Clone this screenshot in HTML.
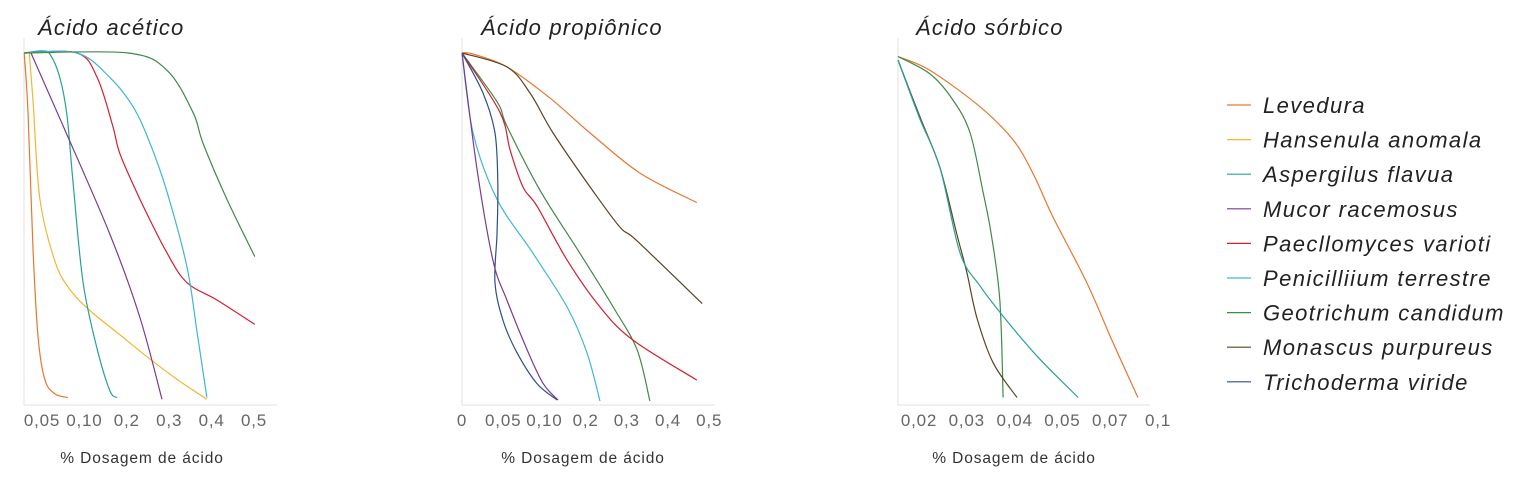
<!DOCTYPE html>
<html><head><meta charset="utf-8">
<style>
html,body{margin:0;padding:0;background:#fff;}
svg{display:block;font-family:"Liberation Sans",sans-serif;}
.title{font-size:22px;font-style:italic;fill:#222;letter-spacing:1.2px;}
.tick{font-size:17px;fill:#666;letter-spacing:0.8px;}
.axt{font-size:15.5px;fill:#333;letter-spacing:0.9px;}
.leg{font-size:22px;font-style:italic;fill:#222;letter-spacing:1.4px;}
</style></head>
<body>
<svg id="svg" width="1528" height="479" viewBox="0 0 1528 479"></svg>
<script>
// ---------- data ----------
const seriesNames = ["Levedura","Hansenula anomala","Aspergilus flavua","Mucor racemosus","Paecllomyces varioti","Penicilliium terrestre","Geotrichum candidum","Monascus purpureus","Trichoderma viride"];
const seriesColors = ["#e8772e","#f2b632","#26a196","#7b3a8f","#d41f2e","#3fb6d6","#3f8a46","#5a4325","#2d4f86"];

const chartTitles = ["Ácido acético","Ácido propiônico","Ácido sórbico"];
const ticks1 = ["0,05","0,10","0,2","0,3","0,4","0,5"];
const ticks2 = ["0","0,05","0,10","0,2","0,3","0,4","0,5"];
const ticks3 = ["0,02","0,03","0,04","0,05","0,07","0,1"];

// x values are positions along the categorical tick axis (tick index units), y values are % survival
const c1_levedura_x = [-0.42,-0.33,-0.21,-0.09,0.07,0.31,0.61];
const c1_levedura_y = [100,83,43,18,6,2,1];
const c1_hansenula_x = [-0.3,-0.21,-0.05,0.31,0.66,1.13,1.84,2.55,3.21,3.89];
const c1_hansenula_y = [100,86,58,40,32,26,19,12,6,0.5];
const c1_aspergilus_x = [-0.42,0.0,0.19,0.42,0.59,0.73,0.97,1.3,1.6,1.77];
const c1_aspergilus_y = [100,100.6,99.6,93,82,63,34,15,3,1];
const c1_mucor_x = [-0.26,0.5,1.6,2.31,2.83];
const c1_mucor_y = [100,79,48,24,0.5];
const c1_paecl_x = [-0.42,0.83,1.3,1.67,1.84,2.31,2.95,3.42,4.13,5.02];
const c1_paecl_y = [100,100,93,79,71,58,42.5,34,29,22];
const c1_penic_x = [-0.42,0.83,1.6,2.15,2.55,2.95,3.42,3.66,3.84,3.89];
const c1_penic_y = [100,100,93,84.5,74,60,38.5,19.5,5,1];
const c1_geot_x = [-0.42,2.03,2.95,3.56,3.8,4.36,5.02];
const c1_geot_y = [100,100,95,83,74,58,41.5];

const c2_levedura_x = [0,0.27,1.09,2.14,3.11,4.32,5.7];
const c2_levedura_y = [100,99.7,96,87,77,65.5,57];
const c2_monascus_x = [0,1.09,1.65,2.21,3.11,3.83,4.25,5.83];
const c2_monascus_y = [100,96,88.5,77,61.5,50,46,28];
const c2_geot_x = [0,0.85,1.09,1.89,2.86,3.67,4.25,4.56];
const c2_geot_y = [100,86,79,60.6,42.5,27,14.7,0];
const c2_paecl_x = [0,0.92,1.17,1.48,1.82,2.55,3.35,4.15,5.7];
const c2_paecl_y = [100,83,72,61.5,56,40.5,27,17.5,6];
const c2_penic_x = [0,0.27,0.85,1.72,2.55,3.03,3.35];
const c2_penic_y = [100,77,58,42.5,27,14,0];
const c2_trich_x = [0,0.51,0.8,0.87,0.85,0.8,1.0,1.33,1.82,2.31];
const c2_trich_y = [100,88.5,77,62.6,48,34,23,14,5,0.3];
const c2_mucor_x = [0,0.36,0.75,1.09,1.58,1.97,2.33];
const c2_mucor_y = [100,67,40.5,29,14.7,5,0.3];

const c3_levedura_x = [-0.44,0.23,1.28,1.97,2.38,2.8,3.51,4.06,4.58];
const c3_levedura_y = [99,95,84.5,75,65.5,53,34,16.7,1];
const c3_geot_x = [-0.44,0.23,0.71,1.07,1.34,1.51,1.69,1.76];
const c3_geot_y = [99,94,86.5,77,60,48,29,1];
const c3_monascus_x = [-0.44,0.02,0.44,0.79,1.0,1.21,1.55,2.05];
const c3_monascus_y = [98,81.6,67,48,37,24,11,1];
const c3_aspergilus_x = [-0.44,0.02,0.44,0.86,1.28,1.84,2.53,3.33];
const c3_aspergilus_y = [98,81,67,42.5,33,23,12,1];

// ---------- layout ----------
const NS = "http://www.w3.org/2000/svg";
const svg = document.getElementById("svg");
function mk(tag, attrs, parent){ const e=document.createElementNS(NS,tag); for(const k in attrs) e.setAttribute(k,attrs[k]); (parent||svg).appendChild(e); return e; }
const yTop = 53, yBot = 401;
function yScale(v){ return yBot - (yBot - yTop) * v / 100; }

const charts = [
  {title:chartTitles[0], ticks:ticks1, axisX:24, axisEnd:277, x0:42, step:42.4, titleX:38, axTitleX:142, name:"acetic",
   series:[[0,c1_levedura_x,c1_levedura_y],[1,c1_hansenula_x,c1_hansenula_y],[2,c1_aspergilus_x,c1_aspergilus_y],[3,c1_mucor_x,c1_mucor_y],[4,c1_paecl_x,c1_paecl_y],[5,c1_penic_x,c1_penic_y],[6,c1_geot_x,c1_geot_y]]},
  {title:chartTitles[1], ticks:ticks2, axisX:462, axisEnd:715, x0:462, step:41.2, titleX:481, axTitleX:583, name:"propionic",
   series:[[0,c2_levedura_x,c2_levedura_y],[7,c2_monascus_x,c2_monascus_y],[6,c2_geot_x,c2_geot_y],[4,c2_paecl_x,c2_paecl_y],[5,c2_penic_x,c2_penic_y],[8,c2_trich_x,c2_trich_y],[3,c2_mucor_x,c2_mucor_y]]},
  {title:chartTitles[2], ticks:ticks3, axisX:898, axisEnd:1150, x0:919, step:47.8, titleX:916, axTitleX:1014, name:"sorbic",
   series:[[0,c3_levedura_x,c3_levedura_y],[6,c3_geot_x,c3_geot_y],[7,c3_monascus_x,c3_monascus_y],[2,c3_aspergilus_x,c3_aspergilus_y]]}
];

function smoothPath(pts){
  let d = "M"+pts[0][0].toFixed(1)+","+pts[0][1].toFixed(1);
  for(let i=0;i<pts.length-1;i++){
    const p0=pts[i-1]||pts[i], p1=pts[i], p2=pts[i+1], p3=pts[i+2]||p2;
    const c1=[p1[0]+(p2[0]-p0[0])/6, p1[1]+(p2[1]-p0[1])/6];
    const c2=[p2[0]-(p3[0]-p1[0])/6, p2[1]-(p3[1]-p1[1])/6];
    d += " C"+c1[0].toFixed(1)+","+c1[1].toFixed(1)+" "+c2[0].toFixed(1)+","+c2[1].toFixed(1)+" "+p2[0].toFixed(1)+","+p2[1].toFixed(1);
  }
  return d;
}

charts.forEach(c=>{
  const g = mk("g",{});
  
  
  const xScale = u => c.x0 + c.step*u;
  const t = mk("text",{x:c.titleX,y:35,class:"title"},g); t.textContent=c.title;
  
  
  const ya = mk("line",{x1:c.axisX,y1:38,x2:c.axisX,y2:405,stroke:"#e2e2e2","stroke-width":1},g);
  
  
  const xa = mk("line",{x1:c.axisX,y1:405,x2:c.axisEnd,y2:405,stroke:"#e2e2e2","stroke-width":1},g);
  
  
  c.ticks.forEach((lab,i)=>{
    const tt = mk("text",{x:xScale(i),y:426,class:"tick","text-anchor":"middle"},g); tt.textContent=lab;
    
    
  });
  const at = mk("text",{x:c.axTitleX,y:463,class:"axt","text-anchor":"middle"},g); at.textContent="% Dosagem de ácido";
  
  
  c.series.forEach(s=>{
    const [idx, xs, ys] = s;
    const pts = xs.map((u,i)=>[xScale(u), yScale(ys[i])]);
    const p = mk("path",{d:smoothPath(pts),fill:"none",stroke:seriesColors[idx],"stroke-width":1.2},g);
    
    
  });
});

// legend
const lg = mk("g",{});


seriesNames.forEach((n,i)=>{
  const y = 105 + i*34.6;
  const e = mk("g",{},lg);
  
  
  mk("line",{x1:1227,y1:y,x2:1251,y2:y,stroke:seriesColors[i],"stroke-width":1.2},e);
  const tx = mk("text",{x:1263,y:y+8,class:"leg"},e); tx.textContent=n;
});
</script>
</body></html>
